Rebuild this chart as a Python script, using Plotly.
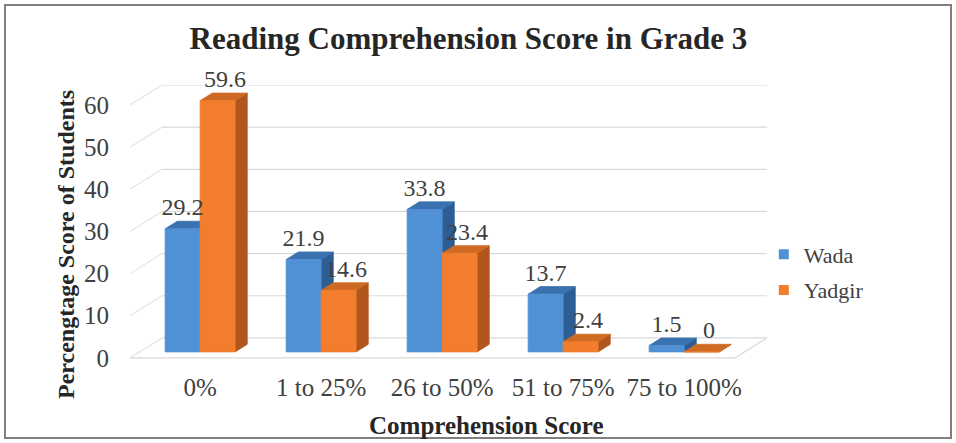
import plotly.graph_objects as go

# ---------------- data ----------------
categories = ["0%", "1 to 25%", "26 to 50%", "51 to 75%", "75 to 100%"]
wada = [29.2, 21.9, 33.8, 13.7, 1.5]
yadgir = [59.6, 14.6, 23.4, 2.4, 0]
y_ticks = [0, 10, 20, 30, 40, 50, 60]
series_names = ["Wada", "Yadgir"]

# ---------------- styling / pseudo-3D geometry (axis units) ----------------
FONT = "Liberation Serif, Times New Roman, serif"
TXT = "#404040"
WALL_DX = 0.2645      # depth of the chart walls along x
WALL_DY = 4.74        # depth of the chart walls along y
F_FRONT = 0.30        # bar front face depth fraction
F_DEPTH = 0.38        # bar depth fraction
BAR_W = 0.289
X_MIN, X_MAX = -0.5, 4.5

colors = {
    "Wada": dict(front="#5090d4", top="#3a72b0", side="#2d5d95"),
    "Yadgir": dict(front="#f27d2c", top="#cf6a25", side="#b0561d"),
}

fx, fy = F_FRONT * WALL_DX, F_FRONT * WALL_DY
ddx, ddy = F_DEPTH * WALL_DX, F_DEPTH * WALL_DY

fig = go.Figure()

# ---- walls / gridlines ----
sx, sy, hx, hy = [], [], [], []
for t in y_ticks:
    sx += [X_MIN, X_MIN + WALL_DX, None]
    sy += [t, t + WALL_DY, None]
    hx += [X_MIN + WALL_DX, X_MAX + WALL_DX, None]
    hy += [t + WALL_DY, t + WALL_DY, None]
fig.add_trace(go.Scatter(x=sx, y=sy, mode="lines", line=dict(color="#e4e4e4", width=1.2),
                         hoverinfo="skip", showlegend=False))
fig.add_trace(go.Scatter(x=hx, y=hy, mode="lines", line=dict(color="#d9d9d9", width=1.2),
                         hoverinfo="skip", showlegend=False))
# floor front + right edges
fig.add_trace(go.Scatter(x=[X_MIN, X_MAX, X_MAX + WALL_DX], y=[0, 0, WALL_DY], mode="lines",
                         line=dict(color="#d9d9d9", width=1.2), hoverinfo="skip", showlegend=False))


def faces(values, sidx):
    fxs, fys, txs, tys, sxs, sys_ = [], [], [], [], [], []
    for i, v in enumerate(values):
        c = i + fx
        xl = c - BAR_W if sidx == 0 else c
        xr = xl + BAR_W
        b = fy
        T = b + v
        fxs += [xl, xr, xr, xl, xl, None]
        fys += [b, b, T, T, b, None]
        txs += [xl, xr, xr + ddx, xl + ddx, xl, None]
        tys += [T, T, T + ddy, T + ddy, T, None]
        sxs += [xr, xr + ddx, xr + ddx, xr, xr, None]
        sys_ += [b, b + ddy, T + ddy, T, b, None]
    return (fxs, fys), (txs, tys), (sxs, sys_)


for sidx, (name, vals) in enumerate(zip(series_names, [wada, yadgir])):
    col = colors[name]
    front, top, side = faces(vals, sidx)
    for (xs, ys), key in [(side, "side"), (top, "top"), (front, "front")]:
        fig.add_trace(go.Scatter(x=xs, y=ys, mode="lines", fill="toself",
                                 fillcolor=col[key], line=dict(color=col[key], width=0.8),
                                 hoverinfo="skip", showlegend=False))

# ---- data labels ----
for sidx, (name, vals) in enumerate(zip(series_names, [wada, yadgir])):
    lx = [i + fx + (-BAR_W / 2 if sidx == 0 else BAR_W / 2 + ddx * 0.6) for i in range(len(vals))]
    ly = [fy + v + ddy for v in vals]
    fig.add_trace(go.Scatter(x=lx, y=ly, mode="text", text=[f"{v:g}" for v in vals],
                             textposition="top center", cliponaxis=False,
                             textfont=dict(family=FONT, size=24, color=TXT),
                             hoverinfo="skip", showlegend=False))

# ---- legend entries ----
for name in series_names:
    fig.add_trace(go.Scatter(x=[None], y=[None], mode="markers", name=name, legendgroup=name,
                             marker=dict(symbol="square", size=10, color=colors[name]["front"])))

fig.update_layout(
    width=956, height=443,
    margin=dict(l=130, r=189, t=85, b=83),
    paper_bgcolor="white", plot_bgcolor="white",
    font=dict(family=FONT, color=TXT),
    title=dict(text="<b>Reading Comprehension Score in Grade 3</b>",
               x=0.49, xanchor="center", y=1 - 38 / 443, yanchor="middle",
               font=dict(family=FONT, size=31, color="#262626")),
    xaxis=dict(range=[X_MIN, X_MAX + WALL_DX], tickvals=[i + fx for i in range(len(categories))],
               ticktext=categories, showgrid=False, zeroline=False, showline=False,
               ticks="", ticklabelstandoff=10, tickfont=dict(family=FONT, size=25, color=TXT),
               fixedrange=True),
    yaxis=dict(range=[-0.5, 60 + WALL_DY], tickvals=y_ticks, showgrid=False, zeroline=False,
               showline=False, ticks="", ticklabelstandoff=20,
               tickfont=dict(family=FONT, size=25, color=TXT), fixedrange=True),
    legend=dict(x=0.995, xanchor="left", y=0.46, yanchor="top", tracegroupgap=4,
                font=dict(family=FONT, size=22, color=TXT), bgcolor="rgba(0,0,0,0)"),
    showlegend=True,
    hovermode=False,
    annotations=[
        dict(text="<b>Comprehension Score</b>", xref="paper", yref="paper",
             x=(486 - 130) / 637, y=(360 - 425) / 275, xanchor="center", yanchor="middle",
             showarrow=False, font=dict(family=FONT, size=25, color="#262626")),
        dict(text="<b>Percengtage Score of Students</b>", xref="paper", yref="paper",
             x=(66 - 130) / 637, y=(360 - 245) / 275, xanchor="center", yanchor="middle",
             textangle=-90, showarrow=False, font=dict(family=FONT, size=24, color="#262626")),
    ],
    shapes=[dict(type="rect", xref="paper", yref="paper",
                 x0=(5 - 130) / 637, x1=(951 - 130) / 637,
                 y0=(360 - 438) / 275, y1=(360 - 5) / 275,
                 line=dict(color="#7f7f7f", width=2), fillcolor="rgba(0,0,0,0)", layer="below")],
)

fig.write_html("out.html", config={"displayModeBar": False},
               post_script="document.body.style.margin='0';")
